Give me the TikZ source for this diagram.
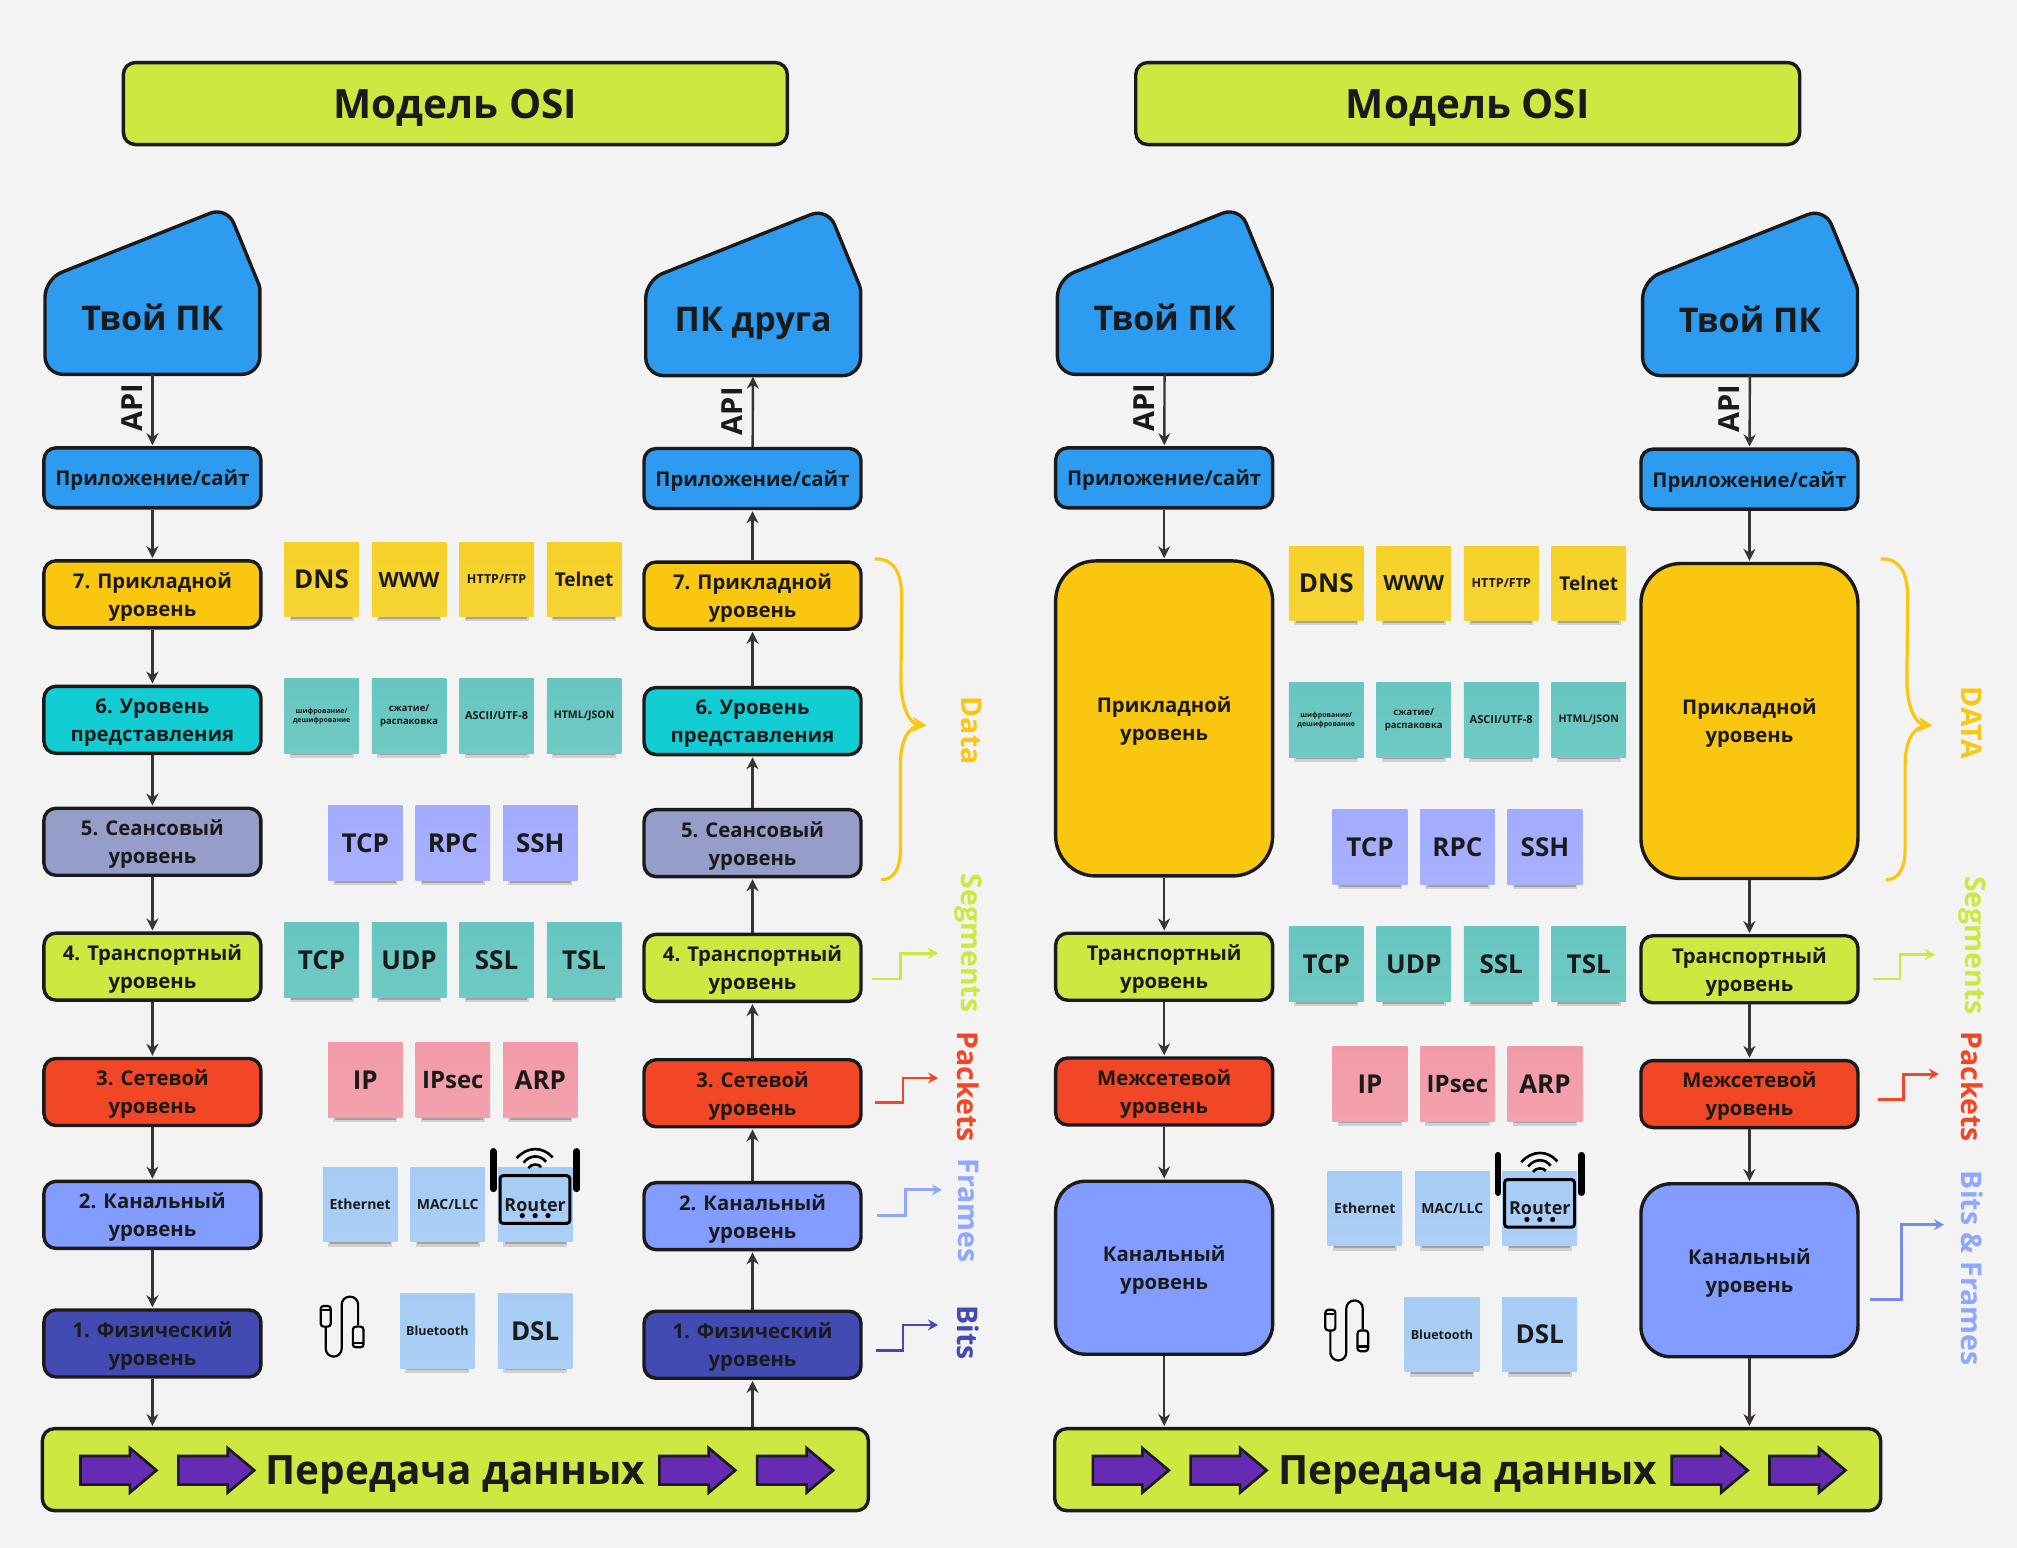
\documentclass[tikz,border=0pt]{standalone}
\usepackage{fontspec}
\setmainfont{Open Sans}
\usetikzlibrary{arrows.meta,shapes.arrows,shadows}

\definecolor{ink}{HTML}{1A1A1A}
\definecolor{wire}{HTML}{3A3335}
\definecolor{paper}{HTML}{F3F3F3}
\definecolor{lime}{HTML}{CEE741}
\definecolor{sky}{HTML}{2D9BF0}
\definecolor{amber}{HTML}{FAC710}
\definecolor{aqua}{HTML}{12CDD4}
\definecolor{slate}{HTML}{969DC8}
\definecolor{tomato}{HTML}{F24726}
\definecolor{peri}{HTML}{8FA7FF}
\definecolor{perifill}{HTML}{839CFF}
\definecolor{navy}{HTML}{414BB2}
\definecolor{grape}{HTML}{652CB3}
\definecolor{stYellow}{HTML}{F5D128}
\definecolor{stTeal}{HTML}{67C6C0}
\definecolor{stViolet}{HTML}{A3ABFF}
\definecolor{stPink}{HTML}{F29BA8}
\definecolor{stBlue}{HTML}{A6CCF5}

\newcommand{\fsz}[2][28]{\fontsize{#2}{#1}\selectfont\bfseries}

\tikzset{
  boxed/.style={rectangle,rounded corners=12pt,draw=ink,line width=3.4pt,align=center,text=ink,
    minimum width=217pt,text depth=0pt,font=\fsz{20.3}},
  layer/.style={boxed,minimum height=67pt,fill=#1},
  big/.style={boxed,rounded corners=40pt,fill=#1},
  wide/.style={boxed,fill=lime,minimum height=82pt},
  conn/.style={color=wire,line width=2.4pt},
  side/.style={-{Stealth[length=10pt,width=11pt]},line width=2.8pt,draw=#1},
  brace/.style={line width=3.2pt,draw=amber},
  tag/.style={rotate=-90,text=#1,font=\fsz{28.5}},
  apitag/.style={rotate=90,anchor=south,inner sep=9pt,text=ink,font=\fsz{29}},
  sticky/.style={rectangle,top color=#1,bottom color=#1!94!white,minimum size=74.6pt,inner sep=0pt,
    align=center,text=ink,
    general shadow={shadow xshift=0pt,shadow yshift=-11.5pt,shadow scale=.86,fill=black,opacity=.14},
    general shadow={shadow xshift=0pt,shadow yshift=-11pt,shadow scale=.82,fill=black,opacity=.22},
    general shadow={shadow xshift=0pt,shadow yshift=-10.5pt,shadow scale=.78,fill=black,opacity=.30}},
  purple/.style={single arrow,draw=ink,line width=2.6pt,fill=grape,inner xsep=0pt,inner ysep=13pt,
    minimum height=76pt,single arrow head extend=8pt,single arrow tip angle=80,single arrow head indent=0pt},
}

% case of the computer, drawn round the node that carries its name
\newcommand{\pccase}[2]{
  \draw[fill=sky,draw=ink,line width=3.4pt,shift={(#1,#2)},rounded corners=18pt]
    (0,44) -- (-83.5,44) -- (-83.5,-30.2) -- (57.9,-86.4) [rounded corners=2pt] -- (83.5,-24)
    [rounded corners=18pt] -- (83.5,44) -- cycle;
}

% seven layers of the first picture
\newcommand{\sevenlayers}[3]{
  \node[layer=amber]  (#17) at (#2,#3) {7. Прикладной\\уровень};
  \node[layer=aqua]   (#16) [below of=#17,node distance=125.5pt] {6. Уровень\\представления};
  \node[layer=slate]  (#15) [below of=#16,node distance=122pt] {5. Сеансовый\\уровень};
  \node[layer=lime]   (#14) [below of=#15,node distance=124.8pt] {4. Транспортный\\уровень};
  \node[layer=tomato] (#13) [below of=#14,node distance=125.4pt] {3. Сетевой\\уровень};
  \node[layer=perifill] (#12) [below of=#13,node distance=122.9pt] {2. Канальный\\уровень};
  \node[layer=navy]   (#11) [below of=#12,node distance=128.6pt] {1. Физический\\уровень};
}

% four layers of the second picture
\newcommand{\fourlayers}[3]{
  \node[big=amber,minimum height=315pt] (#1app) at (#2,558.5+#3) {Прикладной\\уровень};
  \node[layer=lime]   (#1trn) at (#2,751.5+#3) {Транспортный\\уровень};
  \node[layer=tomato] (#1net) at (#2,848.5+#3) {Межсетевой\\уровень};
  \node[big=perifill,minimum height=173pt,rounded corners=30pt] (#1lnk) at (#2,985.5+#3) {Канальный\\уровень};
  \path[->,conn]
    (#1top) edge (#1app)
    (#1app) edge (#1trn)
    (#1trn) edge (#1net)
    (#1net) edge (#1lnk);
}

% notes between the columns, with the icons on them
\newcommand{\noteset}[3]{
  \begin{scope}[shift={(#2,#3)},node distance=87.5pt]
    \node[sticky=stYellow,font=\fsz{26}] (#1dns) at (250,450.5) {DNS};
    \node[sticky=stYellow,font=\fsz{21}] (#1www) [right of=#1dns] {WWW};
    \node[sticky=stYellow,font=\fsz{12.5}] (#1htp) [right of=#1www] {HTTP/FTP};
    \node[sticky=stYellow,font=\fsz{19}] (#1tel) [right of=#1htp] {Telnet};
    \node[sticky=stTeal,font={\fsz[9]{7}}] (#1enc) at (250,556.5) {шифрование/\\дешифрование};
    \node[sticky=stTeal,font={\fsz[13]{9.5}}] (#1zip) [right of=#1enc] {сжатие/\\распаковка};
    \node[sticky=stTeal,font=\fsz{11}] (#1asc) [right of=#1zip] {ASCII/UTF-8};
    \node[sticky=stTeal,font=\fsz{10.5}] (#1htm) [right of=#1asc] {HTML/JSON};
    \node[sticky=stViolet,font=\fsz{26}] (#1tc5) at (284,655.5) {TCP};
    \node[sticky=stViolet,font=\fsz{26}] (#1rpc) [right of=#1tc5] {RPC};
    \node[sticky=stViolet,font=\fsz{26}] (#1ssh) [right of=#1rpc] {SSH};
    \node[sticky=stTeal,font=\fsz{26}] (#1tc4) at (250,746.5) {TCP};
    \node[sticky=stTeal,font=\fsz{26}] (#1udp) [right of=#1tc4] {UDP};
    \node[sticky=stTeal,font=\fsz{26}] (#1ssl) [right of=#1udp] {SSL};
    \node[sticky=stTeal,font=\fsz{26}] (#1tsl) [right of=#1ssl] {TSL};
    \node[sticky=stPink,font=\fsz{26}] (#1ip) at (284,839.5) {IP};
    \node[sticky=stPink,font=\fsz{24}] (#1ips) [right of=#1ip] {IPsec};
    \node[sticky=stPink,font=\fsz{26}] (#1arp) [right of=#1ips] {ARP};
    \node[sticky=stBlue,font=\fsz{14}] (#1eth) at (280,936.5) {Ethernet};
    \node[sticky=stBlue,font=\fsz{14}] (#1mac) [right of=#1eth] {MAC/LLC};
    \node[sticky=stBlue,font=\fsz{18}] (#1rtr) [right of=#1mac] {Router};
    \node[sticky=stBlue,font=\fsz{12.5}] (#1blu) at (340,1034.5) {Bluetooth};
    \node[sticky=stBlue,font=\fsz{26}] (#1dsl) at (416,1034.5) {DSL};
    % router
    \draw[black,line width=3pt,rounded corners=3pt] (388.7,914) rectangle (443,951);
    \draw[black,line width=6.5pt,line cap=round] (383.5,895) -- (383.5,925);
    \draw[black,line width=6.5pt,line cap=round] (448.3,895) -- (448.3,925);
    \draw[black,line width=2.6pt] (401.6,900.4) .. controls (410,891) and (422,891) .. (430.2,900.4);
    \draw[black,line width=2.6pt] (407,903.8) .. controls (412,897.5) and (420,897.5) .. (425,903.8);
    \draw[black,line width=2.6pt] (410.7,908) .. controls (413,904.5) and (419,904.5) .. (421.1,908);
    \foreach \dotx in {406,416,426} \fill[black] (\dotx,945) circle (2.6pt);
    % cable
    \draw[black,line width=2.2pt,rounded corners=3pt] (249.3,1015.2) rectangle (257.1,1031.3);
    \draw[black,line width=2.2pt] (249.3,1018.3) -- (257.1,1018.3);
    \draw[black,line width=2.2pt,rounded corners=3pt] (274.3,1031.3) rectangle (282.6,1047.4);
    \draw[black,line width=2.2pt] (274.3,1043.8) -- (282.6,1043.8);
    \draw[black,line width=2.2pt,rounded corners=8pt]
      (253.2,1031.3) -- (253.2,1054.6) -- (265.6,1054.6) -- (265.6,1008) -- (278.4,1008) -- (278.4,1031.3);
  \end{scope}
}

% transfer bar with its four arrows
\newcommand{\sendbar}[2]{
  \node[wide,minimum width=826pt,font=\fsz{40.5}] (#1) at (#2,1142.5) {Передача данных};
  \begin{scope}[shift={(#2,1143)},node distance=97.8pt]
    \node[purple] (#1p1) at (-268.5,0) {};
    \node[purple] (#1p2) [right of=#1p1] {};
    \node[purple] (#1p3) at (181.5,0) {};
    \node[purple] (#1p4) [right of=#1p3] {};
  \end{scope}
}

\begin{document}
\begin{tikzpicture}[x=1.2864pt,y=-1.2864pt,>={Stealth[length=12pt,width=12pt]},shorten >=1pt]
  \fill[paper] (0,0) rectangle (1568,1203);

  \node[wide,minimum width=664pt,font=\fsz{40.5}] (titleL) at (354,80.5) {Модель OSI};
  \node[wide,minimum width=664pt,font=\fsz{40.5}] (titleR) at (1141,80.5) {Модель OSI};

  % first picture
  \pccase{118.5}{247}
  \pccase{585.5}{248}
  \node[minimum width=215pt,minimum height=113pt,text=ink,font=\fsz{34}] (pcA) at (118.5,247) {Твой ПК};
  \node[minimum width=215pt,minimum height=113pt,text=ink,text depth=0pt,font=\fsz{34}] (pcB) at (585.5,248) {ПК друга};
  \node[layer=sky,minimum height=60pt] (appA) at (118.5,371.5) {Приложение/сайт};
  \node[layer=sky,minimum height=60pt] (appB) at (585,372) {Приложение/сайт};
  \sevenlayers{a}{118.5}{462}
  \sevenlayers{b}{585}{463}
  \sendbar{barL}{354}

  \path[->,conn]
    (pcA) edge node[apitag,pos=.46] {API} (appA)
    (appA) edge (a7)
    (a7) edge (a6)
    (a6) edge (a5)
    (a5) edge (a4)
    (a4) edge (a3)
    (a3) edge (a2)
    (a2) edge (a1)
    (a1) edge (a1 |- barL.north)
    (appB) edge node[apitag] {API} (pcB)
    (b7) edge (appB)
    (b6) edge (b7)
    (b5) edge (b6)
    (b4) edge (b5)
    (b3) edge (b4)
    (b2) edge (b3)
    (b1) edge (b2)
    (b1 |- barL.north) edge (b1);

  \noteset{l}{0}{0}

  % second picture
  \pccase{905.5}{247}
  \pccase{1360.5}{248}
  \node[minimum width=215pt,minimum height=113pt,text=ink,font=\fsz{34}] (pcC) at (905.5,247) {Твой ПК};
  \node[minimum width=215pt,minimum height=113pt,text=ink,font=\fsz{34}] (pcD) at (1360.5,248) {Твой ПК};
  \node[layer=sky,minimum height=60pt] (ctop) at (905,371.5) {Приложение/сайт};
  \node[layer=sky,minimum height=60pt] (dtop) at (1360,372.5) {Приложение/сайт};
  \fourlayers{c}{905}{0}
  \fourlayers{d}{1360}{2}
  \sendbar{barR}{1141}

  \path[->,conn]
    (pcC) edge node[apitag,pos=.46] {API} (ctop)
    (pcD) edge node[apitag,pos=.46] {API} (dtop)
    (clnk) edge (clnk |- barR.north)
    (dlnk) edge (dlnk |- barR.north);

  \noteset{r}{781}{3}

  % what travels on each layer
  \coordinate (dataTop) at (680,434.5);
  \coordinate (dataBot) at (685,684);
  \coordinate (dataTip) at (721,564);
  \draw[brace,-{Stealth[length=14pt,width=15pt]}] (dataTop) .. controls (695,434) and (701,445) .. (701,465) -- (700.4,528)
    .. controls (700,550) and (708,563) .. (dataTip);
  \draw[brace] (dataBot) .. controls (695,684) and (700,675) .. (700,660) -- (700,595)
    .. controls (700,575) and (706,565) .. (716,564);
  \node[tag=amber] (dataL) at (755,568) {Data};

  \coordinate (segS) at (678,761);   \coordinate (segE) at (730,741);
  \coordinate (pktS) at (680,857);   \coordinate (pktE) at (730,838);
  \coordinate (frmS) at (682,945);   \coordinate (frmE) at (733,925);
  \coordinate (bitS) at (681,1050);  \coordinate (bitE) at (730,1030);
  \draw[side=lime] (segS) -- ++(22,0) |- (segE);
  \draw[side=tomato] (pktS) -- ++(22,0) |- (pktE);
  \draw[side=peri] (frmS) -- ++(22,0) |- (frmE);
  \draw[side=navy] (bitS) -- ++(21,0) |- (bitE);
  \node[tag=lime] (segL) at (753,733) {Segments};
  \node[tag=tomato] (pktL) at (753,845) {Packets};
  \node[tag=peri] (frmL) at (753,941) {Frames};
  \node[tag=navy] (bitL) at (753,1036) {Bits};

  \coordinate (dataTopR) at (1462,434.5);
  \coordinate (dataBotR) at (1466,684);
  \coordinate (dataTipR) at (1503,564);
  \draw[brace,-{Stealth[length=14pt,width=15pt]}] (dataTopR) .. controls (1477,434) and (1483,445) .. (1483,465) -- (1482.4,528)
    .. controls (1482,550) and (1490,563) .. (dataTipR);
  \draw[brace] (dataBotR) .. controls (1476,684) and (1481,675) .. (1481,660) -- (1481,595)
    .. controls (1481,575) and (1488,565) .. (1498,564);
  \node[tag=amber] (dataLR) at (1533,562) {DATA};

  \coordinate (segSR) at (1456,761);  \coordinate (segER) at (1505,742);
  \coordinate (pktSR) at (1460,855);  \coordinate (pktER) at (1508,835);
  \coordinate (frmSR) at (1454,1010); \coordinate (frmER) at (1512,952);
  \draw[side=lime] (segSR) -- ++(21,0) |- (segER);
  \draw[side=tomato] (pktSR) -- ++(20,0) |- (pktER);
  \draw[side=peri!70!navy] (frmSR) -- ++(24,0) |- (frmER);
  \node[tag=lime] (segLR) at (1533,735) {Segments};
  \node[tag=tomato] (pktLR) at (1533,845) {Packets};
  \node[tag=peri] (frmLR) at (1533,986) {Bits \& Frames};
\end{tikzpicture}
\end{document}
